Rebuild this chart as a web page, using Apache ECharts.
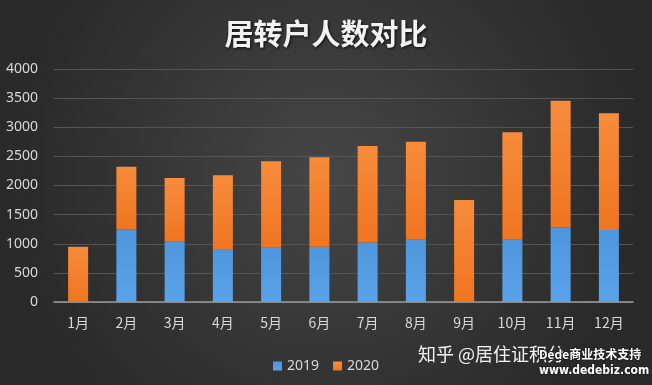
<!DOCTYPE html>
<html><head><meta charset="utf-8">
<script src="https://cdn.jsdelivr.net/npm/echarts@6/dist/echarts.min.js"></script>
<style>html,body{margin:0;padding:0;background:#333;}#c{width:652px;height:385px;}</style>
</head><body><div id="c"></div>
<script>
const categories = ['1月','2月','3月','4月','5月','6月','7月','8月','9月','10月','11月','12月'];
const s2019 = [0,1250,1035,910,930,950,1020,1070,0,1070,1280,1235];
const s2020 = [950,1070,1095,1265,1485,1535,1660,1680,1750,1845,2175,2005];
const yTicks = [0,500,1000,1500,2000,2500,3000,3500,4000];
const title = '居转户人数对比';
const seriesNames = ['2019','2020'];

const chart = echarts.init(document.getElementById('c'), null, {renderer:'canvas'});
const barShadow = {shadowColor:'rgba(0,0,0,0.6)', shadowBlur:4, shadowOffsetX:1, shadowOffsetY:0};
chart.setOption({
  backgroundColor: {type:'radial', x:0.5, y:0.45, r:0.8, colorStops:[{offset:0,color:'#464646'},{offset:1,color:'#2a2a2a'}]},
  title:{text:title, left:'center', top:14, textStyle:{color:'#f2f2f2', fontSize:29, fontWeight:'bold', fontFamily:'Noto Sans CJK SC', textShadowColor:'rgba(0,0,0,0.8)', textShadowBlur:3, textShadowOffsetX:1, textShadowOffsetY:1}},
  legend:{data:seriesNames, left:268, top:354, itemWidth:9, itemHeight:9, itemGap:14, icon:'rect', textStyle:{color:'#d9d9d9', fontSize:14, fontFamily:'Noto Sans'}},
  grid:{left:54, right:19, top:69, bottom:83},
  xAxis:{type:'category', data:categories, axisLine:{lineStyle:{color:'#9a9a9a', width:1.5}}, axisTick:{show:false},
    axisLabel:{color:'#d9d9d9', fontSize:14, margin:14, fontFamily:'Noto Sans CJK SC'}},
  yAxis:{type:'value', min:0, max:4000, interval:500, axisLine:{show:false}, axisTick:{show:false},
    splitLine:{lineStyle:{color:'#555555', width:1}},
    axisLabel:{color:'#d9d9d9', fontSize:14, margin:16, fontFamily:'Noto Sans', formatter:v=>yTicks.includes(v)?String(v):''}},
  series:[
    {name:seriesNames[0], type:'bar', stack:'t', barWidth:20, data:s2019,
      itemStyle:Object.assign({color:{type:'linear',x:0,y:0,x2:0,y2:1,colorStops:[{offset:0,color:'#4e97dc'},{offset:1,color:'#5ba3e8'}]}}, barShadow)},
    {name:seriesNames[1], type:'bar', stack:'t', barWidth:20, data:s2020,
      itemStyle:Object.assign({color:{type:'linear',x:0,y:0,x2:0,y2:1,colorStops:[{offset:0,color:'#f68c3c'},{offset:1,color:'#f07520'}]}}, barShadow)}
  ],
  graphic:[
    {type:'text', left:418, top:345, style:{text:'知乎 @居住证积分', fill:'#f2f2f2', font:'18px "Noto Sans CJK SC"'}},
    {type:'text', left:538, top:347, style:{text:'Dede商业技术支持', fill:'#ffffff', stroke:'#222', lineWidth:2, font:'bold 12px "Noto Sans CJK SC"'}},
    {type:'text', left:538, top:364, style:{text:'www.dedebiz.com', fill:'#ffffff', stroke:'#222', lineWidth:2, font:'bold 12px "DejaVu Sans Condensed"'}}
  ]
});
</script></body></html>
